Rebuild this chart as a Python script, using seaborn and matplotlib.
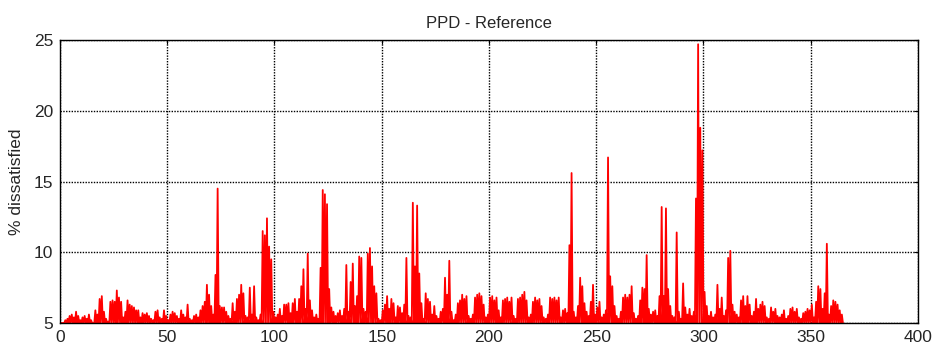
import numpy as np
import pandas as pd
import matplotlib
matplotlib.use("Agg")
import matplotlib.pyplot as plt
import seaborn as sns

# Daily peak PPD (% dissatisfied), day 0 .. 364
ppd_peak = [
    5.0, 5.0, 5.2, 5.3, 5.5, 5.6, 5.4, 5.8, 5.5, 5.2,
    5.4, 5.5, 5.3, 5.6, 5.2, 5.0, 5.9, 5.6, 6.7, 6.9,
    5.8, 5.3, 5.1, 6.5, 6.6, 6.5, 7.3, 6.8, 6.5, 5.4,
    5.8, 6.6, 6.3, 6.2, 6.1, 5.9, 5.9, 5.4, 5.7, 5.6,
    5.7, 5.5, 5.3, 5.2, 5.8, 5.9, 5.4, 5.3, 5.9, 5.5,
    5.2, 5.6, 5.8, 5.7, 5.5, 5.3, 5.9, 5.6, 5.4, 6.3,
    5.3, 5.2, 5.5, 5.6, 5.4, 5.9, 6.2, 6.5, 7.7, 7.0,
    6.2, 5.6, 8.4, 14.5, 6.2, 6.1, 6.1, 5.8, 5.5, 5.3,
    6.4, 5.8, 6.7, 7.0, 7.7, 7.1, 5.5, 5.4, 7.5, 5.6,
    7.6, 5.4, 5.2, 5.6, 11.5, 11.2, 12.4, 10.4, 9.5, 5.8,
    5.4, 5.6, 6.0, 5.5, 6.3, 6.3, 6.4, 5.7, 6.4, 6.7,
    5.8, 6.7, 7.6, 8.8, 6.0, 9.9, 6.6, 5.9, 5.4, 5.6,
    5.3, 8.9, 14.4, 14.1, 13.4, 7.4, 6.1, 5.8, 5.5, 5.7,
    5.9, 5.5, 6.0, 9.1, 5.8, 7.9, 9.2, 6.2, 6.9, 9.7,
    9.6, 6.0, 5.8, 9.9, 10.3, 9.0, 7.6, 7.1, 5.3, 5.2,
    5.9, 6.3, 6.9, 6.0, 6.7, 6.4, 5.4, 6.2, 6.1, 5.7,
    6.3, 9.6, 5.5, 5.4, 13.5, 9.0, 13.3, 8.5, 6.4, 5.3,
    7.1, 6.7, 6.5, 5.6, 6.2, 5.5, 5.3, 5.8, 6.0, 8.2,
    7.0, 9.4, 5.8, 5.2, 5.6, 6.4, 6.6, 7.0, 6.7, 6.9,
    5.5, 5.3, 5.6, 6.8, 7.0, 7.1, 6.9, 6.3, 5.4, 5.6,
    6.8, 6.9, 6.6, 6.8, 5.9, 5.4, 6.6, 6.7, 6.8, 6.5,
    6.8, 5.5, 5.3, 6.7, 6.8, 7.0, 7.2, 6.6, 5.4, 5.6,
    6.5, 6.8, 6.6, 6.7, 6.2, 5.4, 5.3, 5.6, 6.8, 6.7,
    6.8, 6.6, 6.8, 5.4, 5.9, 6.0, 5.7, 10.5, 15.6, 5.8,
    5.4, 6.2, 8.2, 7.6, 6.4, 5.8, 5.5, 6.5, 7.7, 5.6,
    6.1, 6.5, 5.4, 5.6, 5.9, 16.7, 8.3, 7.6, 6.2, 5.5,
    5.3, 5.8, 6.8, 7.0, 6.8, 7.0, 7.6, 5.7, 5.3, 5.5,
    6.6, 7.5, 7.4, 9.8, 6.0, 5.6, 5.8, 5.9, 5.5, 6.9,
    13.2, 6.9, 13.1, 7.4, 6.2, 5.5, 5.4, 11.4, 5.8, 5.3,
    7.8, 6.1, 5.6, 6.0, 5.5, 5.8, 13.8, 24.7, 18.8, 17.2,
    7.2, 6.2, 5.5, 5.8, 5.4, 5.6, 7.7, 6.0, 6.8, 5.5,
    5.9, 9.6, 10.1, 6.3, 5.8, 5.6, 5.4, 6.6, 6.9, 6.2,
    6.9, 6.3, 5.5, 5.8, 6.7, 6.0, 6.3, 6.5, 6.2, 5.4,
    5.3, 6.1, 5.8, 6.0, 5.5, 5.4, 5.6, 5.9, 5.3, 5.5,
    6.0, 6.1, 5.8, 6.0, 5.4, 5.3, 5.7, 5.8, 6.0, 5.9,
    6.3, 5.4, 6.5, 7.6, 7.4, 6.0, 7.1, 10.6, 5.6, 6.2,
    6.6, 6.5, 6.3, 5.9, 5.6,
]
# Night-time PPD sits at its floor value
ppd_floor = 5.0

x_ticks = [0, 50, 100, 150, 200, 250, 300, 350, 400]
y_ticks = [5, 10, 15, 20, 25]

# Each day: floor at midnight, daily peak around midday
days = np.arange(len(ppd_peak), dtype=float)
t = np.column_stack([days, days + 0.5]).ravel()
v = np.column_stack([np.full(len(ppd_peak), ppd_floor), ppd_peak]).ravel()
t = np.append(t, len(ppd_peak))
v = np.append(v, ppd_floor)
df = pd.DataFrame({"day": t, "ppd": v})

sns.set_style("white")
plt.rcParams["font.family"] = ["Liberation Sans", "DejaVu Sans"]

fig = plt.figure(figsize=(9.40, 3.55), dpi=100)
ax = fig.add_axes([0.0638, 0.0901, 0.9128, 0.7972])

sns.lineplot(data=df, x="day", y="ppd", ax=ax, color="red", lw=1.3,
             estimator=None, sort=False, zorder=3)

ax.set_xlim(0, 400)
ax.set_ylim(5, 25)
ax.set_xticks(x_ticks)
ax.set_yticks(y_ticks)
ax.set_xticklabels([str(v) for v in x_ticks], fontsize=12.5)
ax.set_yticklabels([str(v) for v in y_ticks], fontsize=12.5)
ax.grid(True, color="black", linestyle=(0, (1, 1)), linewidth=1.0, zorder=1)
ax.set_axisbelow(True)
ax.tick_params(direction="in", top=True, right=True, length=3, width=0.8,
               color="black", pad=5)
for s in ax.spines.values():
    s.set_color("black")
    s.set_linewidth(1.0)
    s.set_zorder(4)

ax.set_xlabel("")
ax.set_ylabel("% dissatisfied", fontsize=12.5, labelpad=7)
ax.set_title("PPD - Reference", fontsize=12, pad=9)

fig.savefig("out.png", dpi=100)
